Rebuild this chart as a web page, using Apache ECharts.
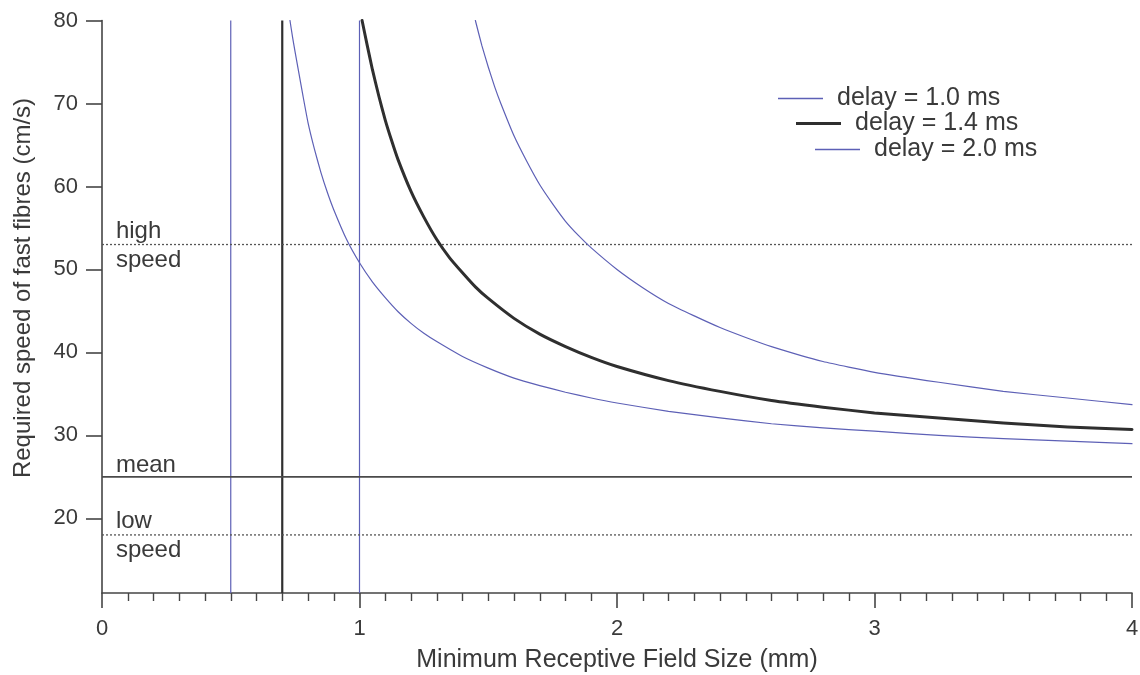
<!DOCTYPE html>
<html>
<head>
<meta charset="utf-8">
<script src="https://cdn.jsdelivr.net/npm/echarts@6/dist/echarts.min.js"></script>
<style>
  html, body { margin: 0; padding: 0; background: #ffffff; }
  #chart { width: 1140px; height: 675px; }
</style>
</head>
<body>
<div id="chart"></div>
<script>
// Required fast-fibre speed versus minimum receptive field size, for three delays.
const seriesNames = ['delay = 1.0 ms', 'delay = 1.4 ms', 'delay = 2.0 ms'];

const fieldSize10 = [0.73, 0.74, 0.75, 0.765, 0.78, 0.8, 0.825, 0.85, 0.875, 0.9, 0.95, 1.0, 1.05, 1.1, 1.15, 1.2, 1.25, 1.3, 1.4, 1.5, 1.6, 1.7, 1.8, 1.9, 2.0, 2.2, 2.4, 2.6, 2.8, 3.0, 3.25, 3.5, 3.75, 4.0];
const speed10     = [80, 78.0, 76.2, 73.6, 71.0, 67.7, 64.5, 61.7, 59.3, 57.2, 53.6, 50.8, 48.5, 46.6, 44.9, 43.5, 42.3, 41.3, 39.5, 38.1, 36.9, 36.0, 35.2, 34.5, 33.9, 32.9, 32.1, 31.4, 30.9, 30.5, 30.0, 29.6, 29.3, 29.0];

const fieldSize14 = [1.01, 1.03, 1.05, 1.075, 1.1, 1.125, 1.15, 1.2, 1.25, 1.3, 1.35, 1.4, 1.45, 1.5, 1.6, 1.7, 1.8, 1.9, 2.0, 2.2, 2.4, 2.6, 2.8, 3.0, 3.25, 3.5, 3.75, 4.0];
const speed14     = [80, 77.0, 74.1, 70.9, 68.0, 65.5, 63.2, 59.4, 56.3, 53.6, 51.4, 49.6, 47.9, 46.5, 44.1, 42.2, 40.7, 39.4, 38.3, 36.6, 35.3, 34.2, 33.4, 32.7, 32.1, 31.5, 31.0, 30.7];

const fieldSize20 = [1.45, 1.475, 1.5, 1.525, 1.55, 1.6, 1.65, 1.7, 1.75, 1.8, 1.85, 1.9, 2.0, 2.1, 2.2, 2.3, 2.4, 2.5, 2.6, 2.8, 3.0, 3.25, 3.5, 3.75, 4.0];
const speed20     = [80, 77.0, 74.4, 72.0, 69.9, 66.1, 63.0, 60.2, 57.9, 55.8, 54.1, 52.6, 50.0, 47.8, 45.9, 44.4, 43.0, 41.8, 40.7, 38.9, 37.6, 36.4, 35.3, 34.5, 33.7];

// Asymptotes (field size at which each delay needs infinite speed)
const asymptotes = [0.5, 0.7, 1.0];

// Reference speeds of the slow fibres
const highSpeed = 53;
const meanSpeed = 25;
const lowSpeed = 18;

const yTicks = [20, 30, 40, 50, 60, 70, 80];
const xMin = 0, xMax = 4, yMin = 11, yMax = 80;

// Annotation texts beside the reference lines
const notes = [
  { text: 'high',  x: 0.054, y: 54.55 },
  { text: 'speed', x: 0.054, y: 51.05 },
  { text: 'mean',  x: 0.054, y: 26.33 },
  { text: 'low',   x: 0.054, y: 19.65 },
  { text: 'speed', x: 0.054, y: 16.1 }
];

const FONT = '"Liberation Sans", Arial, Helvetica, sans-serif';
const INK = '#3a3a3a';
const BLUE = '#5d60b6';
const DARK = '#2f2f2f';

function zip(xs, ys) { return xs.map((x, i) => [x, ys[i]]); }

const chart = echarts.init(document.getElementById('chart'), null, { renderer: 'canvas' });

const curveStyles = [
  { color: BLUE, width: 1.2 },
  { color: DARK, width: 3 },
  { color: BLUE, width: 1.2 }
];

const curveData = [zip(fieldSize10, speed10), zip(fieldSize14, speed14), zip(fieldSize20, speed20)];

const series = [];

// vertical asymptote lines
asymptotes.forEach((a, i) => {
  series.push({
    type: 'line',
    data: [[a, yMin], [a, yMax]],
    symbol: 'none',
    silent: true,
    z: 2,
    lineStyle: { color: curveStyles[i].color, width: i === 1 ? 2.2 : 1.2 }
  });
});

// horizontal reference lines
[[highSpeed, 'dotted'], [meanSpeed, 'solid'], [lowSpeed, 'dotted']].forEach(([v, t]) => {
  series.push({
    type: 'line',
    data: [[xMin, v], [xMax, v]],
    symbol: 'none',
    silent: true,
    z: 2,
    lineStyle: t === 'solid'
      ? { color: '#4a4a4a', width: 1.6 }
      : { color: '#555555', width: 1.3, type: [2, 2] }
  });
});

// the three delay curves
seriesNames.forEach((name, i) => {
  series.push({
    name: name,
    type: 'line',
    data: curveData[i],
    symbol: 'none',
    smooth: 0.15,
    z: 3,
    lineStyle: { color: curveStyles[i].color, width: curveStyles[i].width, join: 'round', cap: 'round' },
    itemStyle: { color: curveStyles[i].color }
  });
});

// annotation labels
series.push({
  type: 'scatter',
  data: notes.map(n => ({ value: [n.x, n.y], name: n.text })),
  symbolSize: 0,
  silent: true,
  z: 4,
  itemStyle: { opacity: 1 },
  label: {
    show: true,
    position: 'right',
    distance: 0,
    formatter: p => p.name,
    fontFamily: FONT,
    fontSize: 24,
    color: INK,
    opacity: 1,
    textBorderWidth: 0,
    verticalAlign: 'middle',
    align: 'left'
  }
});

const legendRows = [
  { left: 778, top: 86 },
  { left: 796, top: 111 },
  { left: 815, top: 137 }
];

const option = {
  backgroundColor: '#ffffff',
  animation: false,
  grid: { left: 102, right: 8, top: 20.5, bottom: 82, containLabel: false, outerBoundsMode: 'none' },
  legend: seriesNames.map((name, i) => ({
    data: [name],
    left: legendRows[i].left,
    top: legendRows[i].top,
    orient: 'horizontal',
    padding: 0,
    icon: 'rect',
    itemWidth: 45,
    itemHeight: i === 1 ? 3 : 1.3,
    itemStyle: { color: curveStyles[i].color, borderWidth: 0 },
    selectedMode: false,
    textStyle: {
      fontFamily: FONT,
      fontSize: 25,
      color: INK,
      lineHeight: 25,
      padding: [0, 0, 0, 9]
    }
  })),
  xAxis: {
    type: 'value',
    min: xMin,
    max: xMax,
    interval: 1,
    name: 'Minimum Receptive Field Size (mm)',
    nameLocation: 'middle',
    nameGap: 55,
    nameTextStyle: { fontFamily: FONT, fontSize: 25, color: INK },
    axisLine: { show: true, onZero: false, lineStyle: { color: '#454545', width: 1.6 } },
    axisTick: { show: true, inside: false, length: 15, lineStyle: { color: '#454545', width: 1.6 } },
    minorTick: { show: true, splitNumber: 10, length: 8, lineStyle: { color: '#454545', width: 1.4 } },
    axisLabel: { fontFamily: FONT, fontSize: 22, color: INK, margin: 25 },
    splitLine: { show: false },
    minorSplitLine: { show: false }
  },
  yAxis: {
    type: 'value',
    min: yMin,
    max: yMax,
    axisLine: { show: true, onZero: false, lineStyle: { color: '#454545', width: 1.6 } },
    axisTick: { show: true, inside: false, length: 16, customValues: yTicks, lineStyle: { color: '#454545', width: 1.6 } },
    axisLabel: { fontFamily: FONT, fontSize: 22, color: INK, margin: 24, customValues: yTicks },
    splitLine: { show: false }
  },
  graphic: [{
    type: 'text',
    rotation: Math.PI / 2,
    x: 23,
    y: 288,
    style: {
      text: 'Required speed of fast fibres (cm/s)',
      fontFamily: FONT,
      fontSize: 24,
      fill: INK,
      align: 'center',
      verticalAlign: 'middle'
    }
  }],
  series: series
};

chart.setOption(option);
</script>
</body>
</html>
